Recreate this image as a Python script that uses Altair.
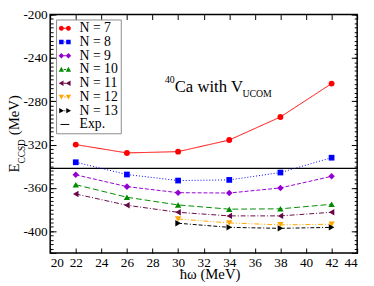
import altair as alt
import pandas as pd
import math

# ---- data ----
hw_all = [22, 26, 30, 34, 38, 42]
hw_hi = [30, 34, 38, 42]
e_n7 = [-320.0, -327.7, -326.5, -315.8, -294.5, -263.7]
e_n8 = [-336.3, -347.6, -353.2, -352.6, -345.8, -332.1]
e_n9 = [-347.9, -358.8, -364.4, -364.7, -360.0, -349.3]
e_n10 = [-357.0, -368.6, -375.7, -379.6, -379.3, -375.1]
e_n11 = [-365.6, -376.0, -382.5, -385.8, -385.8, -382.5]
e_n12 = [-388.7, -392.3, -394.1, -393.5]
e_n13 = [-392.6, -396.4, -397.3, -396.4]
exp_value = -342.05

series_labels = ["N = 7", "N = 8", "N = 9", "N = 10", "N = 11", "N = 12", "N = 13"]
legend_labels = series_labels + ["Exp."]
series_x = [hw_all, hw_all, hw_all, hw_all, hw_all, hw_hi, hw_hi]
series_y = [e_n7, e_n8, e_n9, e_n10, e_n11, e_n12, e_n13]

x_ticks = list(range(20, 45, 2))
y_major = list(range(-400, -199, 40)) + [-420]
y_minor = list(range(-420, -199, 4))

ann_sup = "40"
ann_main = "Ca with V"
ann_sub = "UCOM"
ytitle_main = "E"
ytitle_sub = "CCSD"
ytitle_unit = "(MeV)"
xtitle = "\u0127\u03c9 (MeV)"

# ---- styles ----
colors = ["#ff0000", "#0000ff", "#9400d3", "#008b00", "#670748", "#ffa500", "#000000", "#000000"]
shapes = ["circle", "square", "diamond", "triangle-up", "triangle-left", "triangle-down", "triangle-right"]
dashes = [[1, 0], [1, 2], [4, 2], [6, 3], [5, 2, 1, 2], [5, 2, 1, 2, 1, 2], [4, 2, 4, 2, 1, 2]]
sizes = [36, 34, 44, 42, 42, 42, 42]
FONT = "Liberation Serif"

U = 6.5  # legend symbol unit in px (symbolSize 169)


def p(v):
    return f"{v / U:.3f}"


def rect(x0, x1, h=0.5):
    return f"M{p(x0)},{p(-h)}L{p(x1)},{p(-h)}L{p(x1)},{p(h)}L{p(x0)},{p(h)}Z"


def marker(kind, cx):
    if kind == "circle":
        r = 2.5
        pts = []
        for k in range(12):
            a = 2 * math.pi * k / 12
            pts.append((cx + r * math.cos(a), r * math.sin(a)))
        return "M" + "L".join(f"{p(a)},{p(b)}" for a, b in pts) + "Z"
    if kind == "square":
        h = 2.3
        return f"M{p(cx - h)},{p(-h)}L{p(cx + h)},{p(-h)}L{p(cx + h)},{p(h)}L{p(cx - h)},{p(h)}Z"
    if kind == "diamond":
        h = 2.8
        return f"M{p(cx)},{p(-h)}L{p(cx + h)},0L{p(cx)},{p(h)}L{p(cx - h)},0Z"
    if kind == "triangle-up":
        return f"M{p(cx)},{p(-2.7)}L{p(cx + 2.7)},{p(2.2)}L{p(cx - 2.7)},{p(2.2)}Z"
    if kind == "triangle-down":
        return f"M{p(cx)},{p(2.7)}L{p(cx + 2.7)},{p(-2.2)}L{p(cx - 2.7)},{p(-2.2)}Z"
    if kind == "triangle-left":
        return f"M{p(cx - 2.7)},0L{p(cx + 2.2)},{p(-2.7)}L{p(cx + 2.2)},{p(2.7)}Z"
    if kind == "triangle-right":
        return f"M{p(cx + 2.7)},0L{p(cx - 2.2)},{p(-2.7)}L{p(cx - 2.2)},{p(2.7)}Z"
    return ""


gap_segments = [[(-1.2, 1.2)], [(-0.5, 0.5)], [(-1.0, 1.0)], [(-1.2, 1.2)],
                [(-1.2, 1.2)], [(-1.0, 1.0)], [(-0.5, 0.5)]]
legend_paths = []
for kind, segs in zip(shapes, gap_segments):
    path = marker(kind, -3.6) + marker(kind, 3.6)
    for a, b in segs:
        path += rect(a, b)
    legend_paths.append(path)
legend_paths.append(rect(-4.5, 4.5))

rows = []
for lab, xs, ys in zip(series_labels, series_x, series_y):
    for xv, yv in zip(xs, ys):
        rows.append({"hw": xv, "E": yv, "N": lab})
df = pd.DataFrame(rows)

xscale = alt.Scale(domain=[20, 44], nice=False, zero=False)
yscale = alt.Scale(domain=[-420, -200], nice=False, zero=False)

LABEL_SIZE = 13.5
label_expr = "'' + datum.value"
common_axis = dict(grid=False, domain=False, tickColor="black", tickWidth=1,
                   labelFont=FONT, labelFontSize=LABEL_SIZE, labelColor="black", title=None)

ax_bottom = alt.Axis(orient="bottom", values=x_ticks, tickSize=5, offset=-5,
                     labelPadding=3, labelExpr=label_expr, **common_axis)
ax_top = alt.Axis(orient="top", values=x_ticks, tickSize=5, offset=-5,
                  labels=False, **common_axis)
ax_left = alt.Axis(orient="left", values=y_major, tickSize=6, offset=-6,
                   labelPadding=3, labelExpr="datum.value == -420 ? '' : '' + datum.value",
                   **common_axis)
ax_left_minor = alt.Axis(orient="left", values=y_minor, tickSize=3, offset=-3,
                         labels=False, **common_axis)
ax_right = alt.Axis(orient="right", values=y_major, tickSize=6, offset=-6,
                    labels=False, **common_axis)
ax_right_minor = alt.Axis(orient="right", values=y_minor, tickSize=3, offset=-3,
                          labels=False, **common_axis)

layers = []

exp_df = pd.DataFrame({"E": [exp_value]})
layers.append(
    alt.Chart(exp_df).mark_rule(color="black", strokeWidth=1.3).encode(
        y=alt.Y("E:Q", scale=yscale, axis=ax_left)
    )
)

axis_pairs = [(ax_bottom, ax_left_minor), (ax_top, ax_right), (None, ax_right_minor)]

for i, lab in enumerate(series_labels):
    sub = df[df["N"] == lab]
    if i < len(axis_pairs):
        xa, ya = axis_pairs[i]
    else:
        xa, ya = None, None
    line = alt.Chart(sub).mark_line(color=colors[i], strokeWidth=1, strokeDash=dashes[i]).encode(
        x=alt.X("hw:Q", scale=xscale, axis=xa),
        y=alt.Y("E:Q", scale=yscale, axis=ya),
    )
    pts = alt.Chart(sub).mark_point(filled=True, color=colors[i], shape=shapes[i],
                                    size=sizes[i], opacity=1, strokeWidth=0).encode(
        x=alt.X("hw:Q", scale=xscale, axis=None),
        y=alt.Y("E:Q", scale=yscale, axis=None),
    )
    layers += [line, pts]

legend_layer = alt.Chart(df).transform_filter("false").mark_point(filled=True, opacity=1).encode(
    x=alt.X("hw:Q", scale=xscale, axis=None),
    y=alt.Y("E:Q", scale=yscale, axis=None),
    color=alt.Color("N:N", scale=alt.Scale(domain=legend_labels, range=colors),
                    legend=alt.Legend(title=None, orient="none", legendX=6, legendY=5,
                                      padding=2, strokeColor="#8c8c8c", fillColor="white",
                                      symbolSize=169, symbolStrokeWidth=0, symbolOpacity=1,
                                      labelFont=FONT, labelFontSize=14, labelColor="black",
                                      labelOffset=8, rowPadding=-1, labelLimit=200)),
    shape=alt.Shape("N:N", scale=alt.Scale(domain=legend_labels, range=legend_paths)),
)
layers.append(legend_layer)


def txt(s, x, y, size, angle=0, align="left", baseline="alphabetic"):
    return alt.Chart(pd.DataFrame({"t": [s]})).mark_text(
        font=FONT, fontSize=size, color="black", align=align, baseline=baseline, angle=angle
    ).encode(x=alt.value(x), y=alt.value(y), text="t:N")


layers += [
    txt(ann_sup, 117, 70, 10),
    txt(ann_main, 127, 79, 17),
    txt(ann_sub, 196, 84, 10),
    txt(ytitle_main, -31.5, 161, 15, angle=270),
    txt(ytitle_sub, -25.9, 151.8, 9.5, angle=270),
    txt(ytitle_unit, -31.5, 123, 15, angle=270),
    txt(xtitle, 163, 270, 15, align="center"),
]

chart = alt.layer(*layers).resolve_axis(x="independent", y="independent").properties(
    width=313, height=243,
    autosize=alt.AutoSizeParams(type="none"),
    padding={"left": 43, "top": 4, "right": 9, "bottom": 31},
).configure_view(stroke="black", strokeWidth=1.5)

chart.save("out.html", embed_options={"renderer": "svg", "actions": False})
